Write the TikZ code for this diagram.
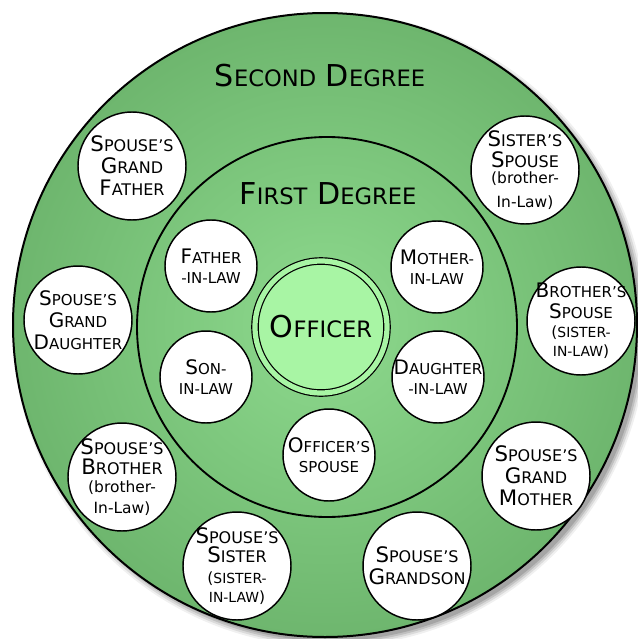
\documentclass[tikz,border=0pt]{standalone}
\usepackage{fontspec}
\setmainfont{DejaVu Sans}

\definecolor{ringlight}{RGB}{142,218,142}
\definecolor{ringdark}{RGB}{110,182,110}
\definecolor{officerfill}{RGB}{168,245,164}

% fake small caps: big first letter, rest scaled down
\newcommand{\capw}[2]{#1\scalebox{0.75}{#2}}
\newcommand{\lcw}[1]{\scalebox{0.75}{#1}}
\newcommand{\paren}[1]{{\fontsize{11.6}{16.5}\selectfont #1}}
\newcommand{\parsc}[1]{\scalebox{0.9}{#1}}

\tikzset{
  kinbig/.style={circle,draw,line width=1.1pt,fill=white,minimum size=81pt,inner sep=-20pt,align=center,font=\fontsize{16}{16.5}\selectfont},
  kinsmall/.style={circle,draw,line width=1.1pt,fill=white,minimum size=69pt,inner sep=-20pt,align=center,font=\fontsize{15}{14.6}\selectfont},
  degreetitle/.style={inner sep=0.75pt,font=\fontsize{22.6}{26}\selectfont}
}

\begin{document}
\begin{tikzpicture}[x=0.75pt,y=0.75pt,yscale=-1,xscale=1]
\useasboundingbox (0,0) rectangle (638,639);

%Shadow of the outer ring
\foreach \r/\o in {311/0.14,313/0.12,315/0.09,317/0.06}
  \fill [black,opacity=\o] (330,330) circle (\r);

%Shape: Circle [second degree]
\coordinate (mid) at (325,325);
\draw [line width=1.5pt,inner color=ringlight,outer color=ringdark] (mid) circle (312);
%Shape: Circle [first degree]
\draw [line width=1.4pt] (327,327) circle (190);

%Shape: Circle [officer]
\node (officer) at (321,327) [circle,draw,line width=0.9pt,double=officerfill,double distance=3.9pt,fill=officerfill,minimum size=99pt,inner sep=-20pt,font=\fontsize{22.6}{26}\selectfont] {\capw{O}{FFICER}};

% Text Node
\node (second) at (320,76) [degreetitle] {\capw{S}{ECOND} \capw{D}{EGREE}};
% Text Node
\node (first) at (328,194) [degreetitle] {\capw{F}{IRST} \capw{D}{EGREE}};

% first degree
\node (fatherlaw) at (211,266) [kinsmall] {\capw{F}{ATHER}\\\lcw{-IN-LAW}};
\node (motherlaw) at (437,267) [kinsmall] {\capw{M}{OTHER-}\\\lcw{IN-LAW}};
\node (sonlaw) at (206,377) [kinsmall] {\capw{S}{ON-}\\\lcw{IN-LAW}};
\node (daughterlaw) at (438,377) [kinsmall] {\capw{D}{AUGHTER}\\\lcw{-IN-LAW}};
\node (ospouse) at (329,455) [kinsmall] {\capw{O}{FFICER’S}\\\lcw{SPOUSE}};

% second degree
\node (grandfather) at (132,166) [kinbig] {\capw{S}{POUSE’S}\\\capw{G}{RAND}\\\capw{F}{ATHER}};
\node (sisspouse) at (525,170) [kinbig] {\capw{S}{ISTER’S}\\[-1pt]\capw{S}{POUSE}\\[-4pt]\paren{(brother-}\\[1pt]\paren{In-Law)}};
\node (granddaughter) at (78,320) [kinbig,font=\fontsize{15}{16.5}\selectfont] {\capw{S}{POUSE’S}\\\capw{G}{RAND}\\\capw{D}{AUGHTER}};
\node (broSpouse) at (581,321) [kinbig,font=\fontsize{15}{16.5}\selectfont] {\capw{B}{ROTHER’S}\\[-1pt]\capw{S}{POUSE}\\[-2pt]\paren{(\parsc{SISTER-}}\\[-2pt]\paren{\parsc{IN-LAW})}};
\node (spbrother) at (122,477) [kinbig] {\capw{S}{POUSE’S}\\[-1pt]\capw{B}{ROTHER}\\[-3pt]\paren{(brother-}\\[-1pt]\paren{In-Law)}};
\node (grandmother) at (536,476) [kinbig] {\capw{S}{POUSE’S}\\\capw{G}{RAND}\\\capw{M}{OTHER}};
\node (spsister) at (237,566) [kinbig] {\capw{S}{POUSE’S}\\[-2pt]\capw{S}{ISTER}\\[-1pt]\paren{(\parsc{SISTER-}}\\[-2pt]\paren{\parsc{IN-LAW})}};
\node (grandson) at (417,566) [kinbig] {\capw{S}{POUSE’S}\\\capw{G}{RANDSON}};

\end{tikzpicture}
\end{document}
